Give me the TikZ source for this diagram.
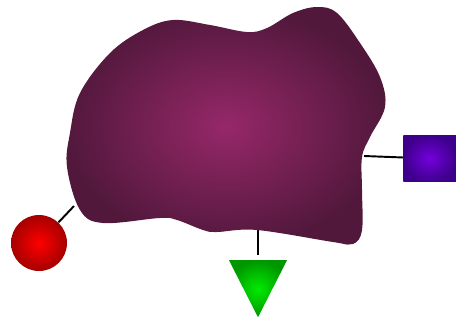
\documentclass[tikz,border=0pt]{standalone}
\usepackage{tikz}
\usetikzlibrary{shapes.geometric}

\definecolor{blobin}{RGB}{150,40,105}
\definecolor{blobout}{RGB}{82,24,60}
\definecolor{ballin}{RGB}{255,0,0}
\definecolor{ballout}{RGB}{165,0,0}
\definecolor{dropin}{RGB}{0,235,0}
\definecolor{dropout}{RGB}{0,150,0}
\definecolor{boxin}{RGB}{115,0,220}
\definecolor{boxout}{RGB}{62,0,140}

\begin{document}
\begin{tikzpicture}[
    x=0.02cm, y=-0.02cm,
    link/.style={draw, line width=1.1pt},
    ball/.style={
        circle,
        inner sep=0pt,
        minimum size=1.12cm,
        inner color=ballin,
        outer color=ballout
    },
    drop/.style={
        isosceles triangle,
        isosceles triangle apex angle=54,
        isosceles triangle stretches,
        shape border rotate=270,
        inner sep=0pt,
        minimum width=1.16cm,
        minimum height=1.14cm,
        inner color=dropin,
        outer color=dropout
    },
    port/.style={
        rectangle,
        inner sep=0pt,
        minimum width=1.05cm,
        minimum height=0.94cm,
        inner color=boxin,
        outer color=boxout
    }
]
\useasboundingbox (0,0) rectangle (456,321);

\node[ball] (ball) at (39,243) {};
\node[drop, anchor=apex] (drop) at (258,318) {};
\node[port] (box) at (429.5,158.5) {};

\coordinate (west) at (74,206);
\coordinate (south) at (258,226);
\coordinate (east) at (364,156);

\draw[link] (ball) -- (west);
\draw[link, shorten >=0.1cm] (south) -- (drop.north);
\draw[link] (east) -- (box);

% the blob
\shade[inner color=blobin, outer color=blobout]
    plot[smooth cycle, tension=0.6] coordinates {
        (173,20) (210,25) (247,32) (267,28) (293,13) (317,7)
        (337,13) (360,43) (380,77) (385,107) (370,137) (362,157)
        (362,190) (362,230) (353,244) (333,242) (257,230) (217,232)
        (203,230) (177,220) (160,218) (103,223) (80,210) (67,167)
        (70,133) (80,93) (110,53) (143,30)
    };

\end{tikzpicture}
\end{document}
